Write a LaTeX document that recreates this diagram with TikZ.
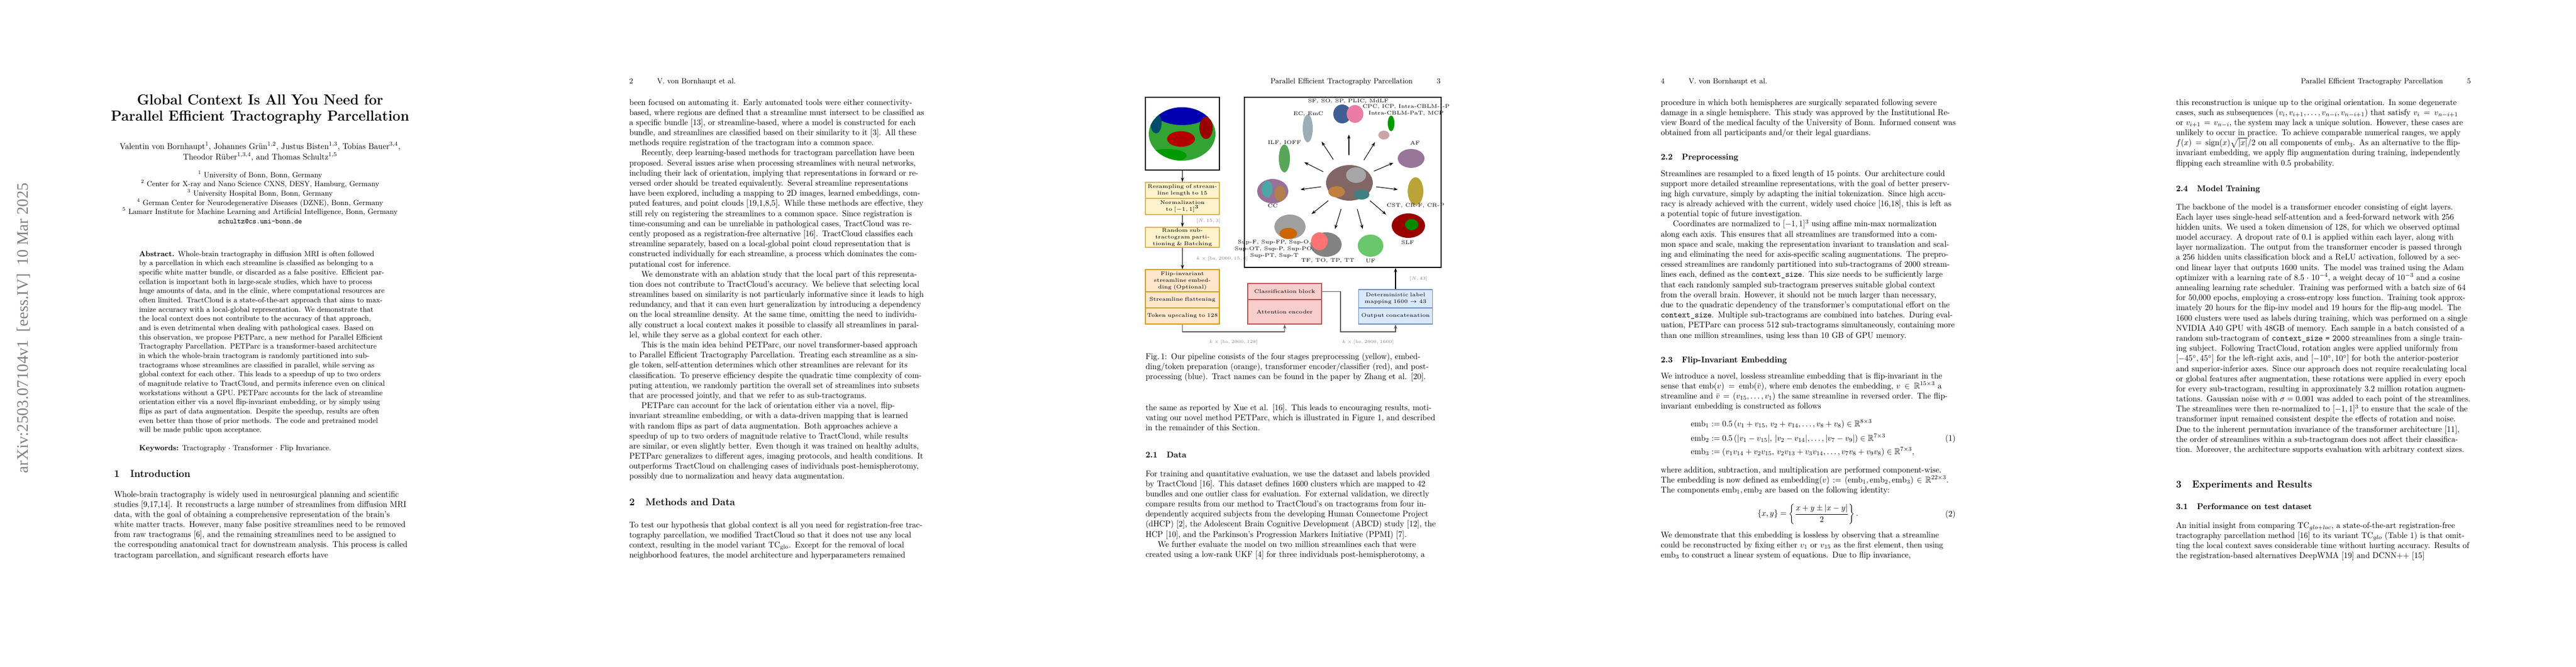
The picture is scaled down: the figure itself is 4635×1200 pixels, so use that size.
\documentclass[tikz,border=0pt]{standalone}
\usepackage{amsmath,amssymb}
\usepackage{graphicx}
\usepackage{fontspec}
\newfontfamily\arxivfont{Liberation Serif}
\usetikzlibrary{arrows.meta}
\definecolor{yf}{HTML}{FFF2CC}\definecolor{yd}{HTML}{D6B656}
\definecolor{of}{HTML}{FFE6CC}\definecolor{od}{HTML}{D79B00}
\definecolor{rf}{HTML}{F8CECC}\definecolor{rd}{HTML}{B85450}
\definecolor{bf}{HTML}{DAE8FC}\definecolor{bd}{HTML}{6C8EBF}
\newcommand\bmath[1]{\scalebox{0.54}{\fontsize{5}{6}\selectfont$#1$}}
\newcommand\dmath[1]{\scalebox{0.46}{\fontsize{5}{6}\selectfont$#1$}}
\tikzset{
 pg/.style={xscale=0.4135,yscale=0.431,transform shape,inner sep=0pt,anchor=base west},
 body/.style={pg,text width=365pt,font=\normalsize},
 hsec/.style={pg,font=\large\bfseries},
 hsub/.style={pg,font=\normalsize\bfseries},
 rh/.style={pg,font=\small},
 fbox/.style={draw,line width=0.45pt,minimum width=1.33cm,inner sep=0.5pt,align=center,font=\fontsize{2.7}{3.4}\selectfont,text width=1.28cm},
 ybox/.style={fbox,fill=yf,draw=yd},
 obox/.style={fbox,fill=of,draw=od},
 rbox/.style={fbox,fill=rf,draw=rd},
 bbox/.style={fbox,fill=bf,draw=bd},
 tl/.style={font=\fontsize{2.7}{3.3}\selectfont,inner sep=0pt,align=center},
 dl/.style={text=gray,inner sep=0pt},
 arr/.style={-{Stealth[length=2.2pt,width=1.6pt]},line width=0.35pt},
 con/.style={line width=0.45pt,draw=black!65},
}
\newcommand\myblob[5]{\fill[#5] (#1,#2) ellipse [x radius=#3,y radius=#4];}
\begin{document}
\begin{tikzpicture}[x=0.01cm,y=-0.01cm]
\useasboundingbox (0,0) rectangle (4635,1200);
\fill[white] (0,0) rectangle (4635,1200);
% ================= PAGE 1 =================
\node[rotate=90,text=black!50,font=\arxivfont\fontsize{8.2}{9}\selectfont,inner sep=0] (arx) at (42,590) {arXiv:2503.07104v1\ \ [eess.IV]\ \ 10 Mar 2025};
\node[pg,anchor=base,font=\LARGE\bfseries] (t1) at (468,188) {Global Context Is All You Need for};
\node[pg,anchor=base,font=\LARGE\bfseries] (t2) at (468,217) {Parallel Efficient Tractography Parcellation};
\node[pg,anchor=base] (au1) at (468,268) {Valentin von Bornhaupt$^{1}$, Johannes Grün$^{1,2}$, Justus Bisten$^{1,3}$, Tobias Bauer$^{3,4}$,};
\node[pg,anchor=base] (au2) at (468,287) {Theodor Rüber$^{1,3,4}$, and Thomas Schultz$^{1,5}$};
\node[pg,anchor=base,font=\small] (af1) at (468,319) {$^{1}$\ University of Bonn, Bonn, Germany};
\node[pg,anchor=base,font=\small] (af2) at (468,335) {$^{2}$\ Center for X-ray and Nano Science CXNS, DESY, Hamburg, Germany};
\node[pg,anchor=base,font=\small] (af3) at (468,352) {$^{3}$\ University Hospital Bonn, Bonn, Germany};
\node[pg,anchor=base,font=\small] (af4) at (468,369) {$^{4}$\ German Center for Neurodegenerative Diseases (DZNE), Bonn, Germany};
\node[pg,anchor=base,font=\small] (af5) at (468,385) {$^{5}$\ Lamarr Institute for Machine Learning and Artificial Intelligence, Bonn, Germany};
\node[pg,anchor=base,font=\small\ttfamily] (em) at (468,402) {schultz@cs.uni-bonn.de};
\node[pg,text width=305pt,font=\small] (abs) at (250,461) {\textbf{Abstract.} Whole-brain tractography in diffusion MRI is often followed by a parcellation in which each streamline is classified as belonging to a specific white matter bundle, or discarded as a false positive. Efficient parcellation is important both in large-scale studies, which have to process huge amounts of data, and in the clinic, where computational resources are often limited. TractCloud is a state-of-the-art approach that aims to maximize accuracy with a local-global representation. We demonstrate that the local context does not contribute to the accuracy of that approach, and is even detrimental when dealing with pathological cases. Based on this observation, we propose PETParc, a new method for Parallel Efficient Tractography Parcellation. PETParc is a transformer-based architecture in which the whole-brain tractogram is randomly partitioned into sub-tractograms whose streamlines are classified in parallel, while serving as global context for each other. This leads to a speedup of up to two orders of magnitude relative to TractCloud, and permits inference even on clinical workstations without a GPU. PETParc accounts for the lack of streamline orientation either via a novel flip-invariant embedding, or by simply using flips as part of data augmentation. Despite the speedup, results are often even better than those of prior methods. The code and pretrained model will be made public upon acceptance.};
\node[pg,font=\small] (kw) at (250,810) {\textbf{Keywords:} Tractography $\cdot$ Transformer $\cdot$ Flip Invariance.};
\node[hsec] (s1) at (205,858) {\makebox[20pt][l]{1}Introduction};
\node[body] (p1) at (205,894) {\parfillskip=0pt Whole-brain tractography is widely used in neurosurgical planning and scientific studies [9,17,14]. It reconstructs a large number of streamlines from diffusion MRI data, with the goal of obtaining a comprehensive representation of the brain's white matter tracts. However, many false positive streamlines need to be removed from raw tractograms [6], and the remaining streamlines need to be assigned to the corresponding anatomical tract for downstream analysis. This process is called tractogram parcellation, and significant research efforts have};
% ================= PAGE 2 =================
\node[rh] (h2a) at (1132,150) {2};
\node[rh] (h2b) at (1182,150) {V. von Bornhaupt et al.};
\node[body] (p2a) at (1132,189) {\parindent=15pt\noindent been focused on automating it. Early automated tools were either connectivity-based, where regions are defined that a streamline must intersect to be classified as a specific bundle [13], or streamline-based, where a model is constructed for each bundle, and streamlines are classified based on their similarity to it [3]. All these methods require registration of the tractogram into a common space.\par
Recently, deep learning-based methods for tractogram parcellation have been proposed. Several issues arise when processing streamlines with neural networks, including their lack of orientation, implying that representations in forward or reversed order should be treated equivalently. Several streamline representations have been explored, including a mapping to 2D images, learned embeddings, computed features, and point clouds [19,1,8,5]. While these methods are effective, they still rely on registering the streamlines to a common space. Since registration is time-consuming and can be unreliable in pathological cases, TractCloud was recently proposed as a registration-free alternative [16]. TractCloud classifies each streamline separately, based on a local-global point cloud representation that is constructed individually for each streamline, a process which dominates the computational cost for inference.\par
We demonstrate with an ablation study that the local part of this representation does not contribute to TractCloud's accuracy. We believe that selecting local streamlines based on similarity is not particularly informative since it leads to high redundancy, and that it can even hurt generalization by introducing a dependency on the local streamline density. At the same time, omitting the need to individually construct a local context makes it possible to classify all streamlines in parallel, while they serve as a global context for each other.\par
This is the main idea behind PETParc, our novel transformer-based approach to Parallel Efficient Tractography Parcellation. Treating each streamline as a single token, self-attention determines which other streamlines are relevant for its classification. To preserve efficiency despite the quadratic time complexity of computing attention, we randomly partition the overall set of streamlines into subsets that are processed jointly, and that we refer to as sub-tractograms.\par
PETParc can account for the lack of orientation either via a novel, flip-invariant streamline embedding, or with a data-driven mapping that is learned with random flips as part of data augmentation. Both approaches achieve a speedup of up to two orders of magnitude relative to TractCloud, while results are similar, or even slightly better. Even though it was trained on healthy adults, PETParc generalizes to different ages, imaging protocols, and health conditions. It outperforms TractCloud on challenging cases of individuals post-hemispherotomy, possibly due to normalization and heavy data augmentation.};
\node[hsec] (s2) at (1132,909) {\makebox[20pt][l]{2}Methods and Data};
\node[body] (p2b) at (1132,949) {\parfillskip=0pt To test our hypothesis that global context is all you need for registration-free tractography parcellation, we modified TractCloud so that it does not use any local context, resulting in the model variant TC$_{\mathrm{glo}}$. Except for the removal of local neighborhood features, the model architecture and hyperparameters remained};
% ================= PAGE 3 =================
\node[rh,anchor=base east] (h3b) at (2592,150) {3};
\node[rh,anchor=base east] (h3a) at (2542,150) {Parallel Efficient Tractography Parcellation};
% figure
\node[draw,line width=0.5pt,minimum width=1.33cm,minimum height=1.31cm,inner sep=0] (img) at (2127.5,240.5) {};
\begin{scope}
\clip (2127,241) ellipse [x radius=60,y radius=48];
\fill[green!55!black!80] (2065,190) rectangle (2190,292);
\fill[blue!70!black] (2127,195) ellipse [x radius=55,y radius=30];
\fill[red!70!black] (2125,250) ellipse [x radius=25,y radius=14];
\fill[red!60!black] (2170,230) ellipse [x radius=12,y radius=20];
\fill[green!60!black] (2100,280) ellipse [x radius=35,y radius=12];
\fill[blue!60!black!70!green] (2080,222) ellipse [x radius=10,y radius=18];
\end{scope}
\node[draw,line width=0.5pt,minimum width=3.54cm,minimum height=3.06cm,inner sep=0] (big) at (2416,328) {};
\node[ybox,minimum height=0.29cm] (y1) at (2127.5,342.5) {Resampling of streamline length to 15};
\node[ybox,minimum height=0.29cm] (y2) at (2127.5,371.5) {Normalization to \bmath{[-1,1]^3}};
\node[ybox,minimum height=0.36cm] (y3) at (2127.5,427) {Random sub-tractogram partitioning \& Batching};
\node[obox,minimum height=0.40cm] (o1) at (2127.5,505) {Flip-invariant streamline embedding (Optional)};
\node[obox,minimum height=0.29cm] (o2) at (2127.5,539.5) {Streamline flattening};
\node[obox,minimum height=0.29cm] (o3) at (2127.5,568.5) {Token upscaling to 128};
\node[rbox,minimum height=0.29cm] (r1) at (2311.5,524.5) {Classification block};
\node[rbox,minimum height=0.44cm] (r2) at (2311.5,561) {Attention encoder};
\node[bbox,minimum height=0.33cm] (b1) at (2511,537.5) {Deterministic label mapping \bmath{1600\rightarrow 43}};
\node[bbox,minimum height=0.29cm] (b2) at (2511,568.5) {Output concatenation};
\draw[arr] (img.south) -- (y1.north);
\draw[arr] (y2.south) -- node[dl,right=7pt] {\dmath{[N,15,3]}} (y3.north);
\draw[arr] (y3.south) -- node[dl,right=7pt] {\dmath{k\times[\mathrm{bs},2000,15,3]}} (o1.north);
\coordinate (c1) at (2127.5,597);
\coordinate (c2) at (2311.5,597);
\draw[con,arr] (o3.south) -- (c1) -- node[dl,below=4pt] {\dmath{k\times[\mathrm{bs},2000,128]}} (c2) -- (r2.south);
\coordinate (c3) at (2412,524.5);
\coordinate (c4) at (2412,597);
\coordinate (c5) at (2511,597);
\draw[con,arr] (r1.east) -- (c3) -- (c4) -- node[dl,below=4pt] {\dmath{k\times[\mathrm{bs},2000,1600]}} (c5) -- (b2.south);
\draw[arr] (b1.north) -- node[dl,right=7pt] {\dmath{[N,43]}} (big.south -| b1.north);
% bundles inside big box
\myblob{2428}{329}{42}{32}{black!45!red!20!gray}
\myblob{2440}{315}{18}{14}{gray!70}
\myblob{2405}{345}{15}{10}{orange!50!gray}
\myblob{2450}{350}{14}{9}{teal!50!gray}
\myblob{2415}{205}{16}{17}{cyan!40!blue!70!black}
\myblob{2438}{205}{15}{16}{magenta!40!pink!90!gray}
\myblob{2490}{243}{10}{8}{pink!60!gray}
\myblob{2503}{222}{6}{14}{green!60!black}
\myblob{2353}{231}{9}{25}{cyan!20!gray!80}
\myblob{2311}{285}{10}{25}{green!30!gray}
\myblob{2539}{285}{24}{17}{violet!35!gray!80}
\myblob{2290}{344}{28}{22}{violet!40!gray!80}
\myblob{2280}{340}{10}{15}{teal!70}
\myblob{2303}{348}{10}{14}{orange!40!gray}
\myblob{2547}{344}{14}{25}{olive!60!pink}
\myblob{2321}{408}{28}{22}{gray!75}
\myblob{2318}{420}{16}{10}{orange!80!black}
\myblob{2386}{440}{28}{22}{gray!60!black!70}
\myblob{2374}{434}{15}{16}{red!40!pink}
\myblob{2466}{442}{23}{20}{green!45!gray!80}
\myblob{2534}{406}{30}{22}{red!60!black}
\myblob{2540}{404}{12}{10}{green!55!black}
\node[tl] (l1) at (2426,182) {SF, SO, SP, PLIC, MdLF};
\node[tl] (l2) at (2530,198) {CPC, ICP, Intra-CBLM-I-P\\Intra-CBLM-PaT, MCP};
\node[tl] (l3) at (2354,205) {EC, EmC};
\node[tl] (l4) at (2311,257) {ILF, IOFF};
\node[tl] (l5) at (2546,257) {AF};
\node[tl] (l6) at (2290,370) {CC};
\node[tl] (l7) at (2547,370) {CST, CR-F, CR-P};
\node[tl] (l8) at (2293,448) {Sup-F, Sup-FP, Sup-O,\\Sup-OT, Sup-P, Sup-PO,\\Sup-PT, Sup-T};
\node[tl] (l9) at (2389,469) {TF, TO, TP, TT};
\node[tl] (l10) at (2466,469) {UF};
\node[tl] (l11) at (2533,436) {SLF};
\coordinate (a1s) at (2427,279);\coordinate (a1e) at (2427,242);
\coordinate (a2s) at (2454,288);\coordinate (a2e) at (2474,256);
\coordinate (a3s) at (2399,287);\coordinate (a3e) at (2378,255);
\coordinate (a4s) at (2381,309);\coordinate (a4e) at (2347,292);
\coordinate (a5s) at (2472,308);\coordinate (a5e) at (2507,293);
\coordinate (a6s) at (2377,336);\coordinate (a6e) at (2340,341);
\coordinate (a7s) at (2476,336);\coordinate (a7e) at (2515,341);
\coordinate (a8s) at (2390,361);\coordinate (a8e) at (2360,385);
\coordinate (a9s) at (2413,376);\coordinate (a9e) at (2402,412);
\coordinate (a10s) at (2442,376);\coordinate (a10e) at (2452,412);
\coordinate (a11s) at (2465,361);\coordinate (a11e) at (2494,386);
\foreach \i in {1,...,11} {\draw[arr,line width=0.3pt] (a\i s) -- (a\i e);}
\node[body] (cap) at (2061,646) {Fig.\,1: Our pipeline consists of the four stages preprocessing (yellow), embedding/token preparation (orange), transformer encoder/classifier (red), and post-processing (blue). Tract names can be found in the paper by Zhang et al. [20].};
\node[body] (p3a) at (2061,738) {the same as reported by Xue et al. [16]. This leads to encouraging results, motivating our novel method PETParc, which is illustrated in Figure 1, and described in the remainder of this Section.};
\node[hsub] (s21) at (2061,823) {\makebox[26pt][l]{2.1}Data};
\node[body] (p3b) at (2061,857) {\parindent=15pt\noindent For training and quantitative evaluation, we use the dataset and labels provided by TractCloud [16]. This dataset defines 1600 clusters which are mapped to 42 bundles and one outlier class for evaluation. For external validation, we directly compare results from our method to TractCloud's on tractograms from four independently acquired subjects from the developing Human Connectome Project (dHCP) [2], the Adolescent Brain Cognitive Development (ABCD) study [12], the HCP [10], and the Parkinson's Progression Markers Initiative (PPMI) [7].\par
\parfillskip=0pt We further evaluate the model on two million streamlines each that were created using a low-rank UKF [4] for three individuals post-hemispherotomy, a\par};
% ================= PAGE 4 =================
\node[rh] (h4a) at (2988,150) {4};
\node[rh] (h4b) at (3038,150) {V. von Bornhaupt et al.};
\node[body] (p4a) at (2988,189) {procedure in which both hemispheres are surgically separated following severe damage in a single hemisphere. This study was approved by the Institutional Review Board of the medical faculty of the University of Bonn. Informed consent was obtained from all participants and/or their legal guardians.};
\node[hsub] (s22) at (2988,287) {\makebox[26pt][l]{2.2}Preprocessing};
\node[body] (p4b) at (2988,317) {\parindent=15pt\noindent Streamlines are resampled to a fixed length of 15 points. Our architecture could support more detailed streamline representations, with the goal of better preserving high curvature, simply by adapting the initial tokenization. Since high accuracy is already achieved with the current, widely used choice [16,18], this is left as a potential topic of future investigation.\par
Coordinates are normalized to $[-1,1]^3$ using affine min-max normalization along each axis. This ensures that all streamlines are transformed into a common space and scale, making the representation invariant to translation and scaling and eliminating the need for axis-specific scaling augmentations. The preprocessed streamlines are randomly partitioned into sub-tractograms of 2000 streamlines each, defined as the \texttt{context\_size}. This size needs to be sufficiently large that each randomly sampled sub-tractogram preserves suitable global context from the overall brain. However, it should not be much larger than necessary, due to the quadratic dependency of the transformer's computational effort on the \texttt{context\_size}. Multiple sub-tractograms are combined into batches. During evaluation, PETParc can process 512 sub-tractograms simultaneously, containing more than one million streamlines, using less than 10 GB of GPU memory.};
\node[hsub] (s23) at (2988,652) {\makebox[26pt][l]{2.3}Flip-Invariant Embedding};
\node[body] (p4c) at (2988,681) {We introduce a novel, lossless streamline embedding that is flip-invariant in the sense that $\mathrm{emb}(v)=\mathrm{emb}(\bar v)$, where emb denotes the embedding, $v\in\mathbb{R}^{15\times3}$ a streamline and $\bar v=(v_{15},\dots,v_1)$ the same streamline in reversed order. The flip-invariant embedding is constructed as follows};
\node[pg] (e1) at (3042,767) {$\mathrm{emb}_1 := 0.5\,(v_1+v_{15},\,v_2+v_{14},\dots,v_8+v_8)\in\mathbb{R}^{8\times3}$};
\node[pg] (e2) at (3042,793) {$\mathrm{emb}_2 := 0.5\,(|v_1-v_{15}|,\,|v_2-v_{14}|,\dots,|v_7-v_9|)\in\mathbb{R}^{7\times3}$};
\node[pg] (e3) at (3042,817) {$\mathrm{emb}_3 := (v_1v_{14}+v_2v_{15},\,v_2v_{13}+v_3v_{14},\dots,v_7v_8+v_9v_8)\in\mathbb{R}^{7\times3},$};
\node[pg,anchor=base east] (en1) at (3519,793) {(1)};
\node[body] (p4d) at (2988,850) {where addition, subtraction, and multiplication are performed component-wise. The embedding is now defined as $\mathrm{embedding}(v) := (\mathrm{emb}_1,\mathrm{emb}_2,\mathrm{emb}_3)\in\mathbb{R}^{22\times3}$. The components $\mathrm{emb}_1,\mathrm{emb}_2$ are based on the following identity:};
\node[pg,anchor=center] (e4) at (3253,925) {$\displaystyle\{x,y\}=\left\{\frac{x+y\pm|x-y|}{2}\right\}.$};
\node[pg,anchor=base east] (en2) at (3519,929) {(2)};
\node[body] (p4e) at (2988,967) {\parfillskip=0pt We demonstrate that this embedding is lossless by observing that a streamline could be reconstructed by fixing either $v_1$ or $v_{15}$ as the first element, then using $\mathrm{emb}_3$ to construct a linear system of equations. Due to flip invariance,};
% ================= PAGE 5 =================
\node[rh,anchor=base east] (h5b) at (4446,150) {5};
\node[rh,anchor=base east] (h5a) at (4396,150) {Parallel Efficient Tractography Parcellation};
\node[body] (p5a) at (3915,189) {this reconstruction is unique up to the original orientation. In some degenerate cases, such as subsequences $(v_i,v_{i+1},\dots,v_{n-i},v_{n-i+1})$ that satisfy $v_i=v_{n-i+1}$ or $v_{i+1}=v_{n-i}$, the system may lack a unique solution. However, these cases are unlikely to occur in practice. To achieve comparable numerical ranges, we apply $f(x)=\mathrm{sign}(x)\sqrt{|x|}/2$ on all components of $\mathrm{emb}_3$. As an alternative to the flip-invariant embedding, we apply flip augmentation during training, independently flipping each streamline with 0.5 probability.};
\node[hsub] (s24) at (3915,344) {\makebox[26pt][l]{2.4}Model Training};
\node[body] (p5b) at (3915,377) {The backbone of the model is a transformer encoder consisting of eight layers. Each layer uses single-head self-attention and a feed-forward network with 256 hidden units. We used a token dimension of 128, for which we observed optimal model accuracy. A dropout rate of 0.1 is applied within each layer, along with layer normalization. The output from the transformer encoder is passed through a 256 hidden units classification block and a ReLU activation, followed by a second linear layer that outputs 1600 units. The model was trained using the Adam optimizer with a learning rate of $8.5\cdot10^{-4}$, a weight decay of $10^{-3}$ and a cosine annealing learning rate scheduler. Training was performed with a batch size of 64 for 50,000 epochs, employing a cross-entropy loss function. Training took approximately 20 hours for the flip-inv model and 19 hours for the flip-aug model. The 1600 clusters were used as labels during training, which was performed on a single NVIDIA A40 GPU with 48GB of memory. Each sample in a batch consisted of a random sub-tractogram of \texttt{context\_size = 2000} streamlines from a single training subject. Following TractCloud, rotation angles were applied uniformly from $[-45^\circ,45^\circ]$ for the left-right axis, and $[-10^\circ,10^\circ]$ for both the anterior-posterior and superior-inferior axes. Since our approach does not require recalculating local or global features after augmentation, these rotations were applied in every epoch for every sub-tractogram, resulting in approximately 3.2 million rotation augmentations. Gaussian noise with $\sigma=0.001$ was added to each point of the streamlines. The streamlines were then re-normalized to $[-1,1]^3$ to ensure that the scale of the transformer input remained consistent despite the effects of rotation and noise. Due to the inherent permutation invariance of the transformer architecture [11], the order of streamlines within a sub-tractogram does not affect their classification. Moreover, the architecture supports evaluation with arbitrary context sizes.};
\node[hsec] (s3) at (3915,877) {\makebox[20pt][l]{3}Experiments and Results};
\node[hsub] (s31) at (3915,916) {\makebox[26pt][l]{3.1}Performance on test dataset};
\node[body] (p5c) at (3915,950) {\parfillskip=0pt An initial insight from comparing TC$_{glo+loc}$, a state-of-the-art registration-free tractography parcellation method [16] to its variant TC$_{glo}$ (Table 1) is that omitting the local context saves considerable time without hurting accuracy. Results of the registration-based alternatives DeepWMA [19] and DCNN++ [15]};
\end{tikzpicture}
\end{document}
